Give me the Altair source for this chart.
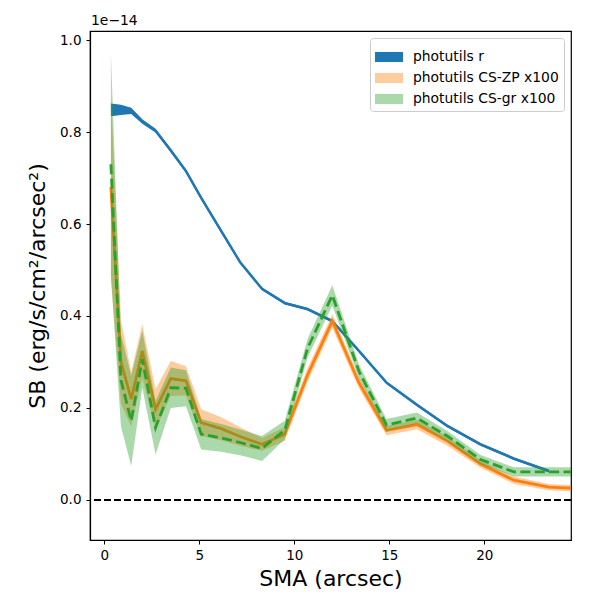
import altair as alt
import pandas as pd

# --- data (SB in units of 1e-14) ---
sma = [0.35, 0.88, 1.42, 2.0, 2.7, 3.5, 4.3, 5.1, 6.15, 7.15, 8.3, 9.5,
       10.7, 12.0, 13.4, 14.85, 16.45, 18.05, 19.8, 21.55, 23.4, 25.5]

sb_r = [0.848, 0.848, 0.846, 0.823, 0.803, 0.760, 0.715, 0.657, 0.585, 0.517,
        0.459, 0.428, 0.415, 0.389, 0.324, 0.255, 0.207, 0.161, 0.121, 0.090, 0.063]
sb_r_err = [0.014, 0.011, 0.007, 0.005, 0.004, 0.004, 0.004, 0.004, 0.004, 0.003,
            0.003, 0.003, 0.003, 0.003, 0.003, 0.003, 0.003, 0.003, 0.003, 0.003, 0.003]

sb_zp = [0.68, 0.30, 0.219, 0.324, 0.197, 0.264, 0.259, 0.168, 0.155, 0.138, 0.121,
         0.143, 0.272, 0.389, 0.255, 0.151, 0.164, 0.128, 0.078, 0.043, 0.028, 0.024]
sb_zp_err = [0.20, 0.09, 0.06, 0.058, 0.044, 0.038, 0.032, 0.029, 0.025, 0.02, 0.014,
             0.015, 0.015, 0.015, 0.012, 0.010, 0.010, 0.010, 0.008, 0.008, 0.007, 0.007]

sb_gr = [0.73, 0.26, 0.172, 0.306, 0.157, 0.244, 0.243, 0.143, 0.135, 0.125, 0.112,
         0.152, 0.330, 0.445, 0.280, 0.163, 0.178, 0.139, 0.088, 0.061, 0.061, 0.061]
sb_gr_err = [0.24, 0.10, 0.098, 0.062, 0.058, 0.044, 0.039, 0.033, 0.030, 0.028, 0.027,
             0.020, 0.020, 0.022, 0.015, 0.013, 0.012, 0.011, 0.010, 0.010, 0.010, 0.010]

series_names = ["photutils r", "photutils CS-ZP x100", "photutils CS-gr x100"]
legend_colors = ["#1f77b4", "#ffcc9f", "#abd9ab"]

x_ticks = [0, 5, 10, 15, 20]
y_ticks = [0.0, 0.2, 0.4, 0.6, 0.8, 1.0]
offset_label = "1e\u221214"


def frame(xs, ys, errs):
    return pd.DataFrame({
        "sma": xs[:len(ys)],
        "sb": ys,
        "lo": [a - b for a, b in zip(ys, errs)],
        "hi": [a + b for a, b in zip(ys, errs)],
    })


df_r = frame(sma, sb_r, sb_r_err)
df_zp = frame(sma, sb_zp, sb_zp_err)
df_gr = frame(sma, sb_gr, sb_gr_err)

FONT = "DejaVu Sans"

x_scale = alt.Scale(domain=[-0.75, 24.56], nice=False, zero=False)
y_scale = alt.Scale(domain=[-0.087, 1.0196], nice=False, zero=False)

x_enc = alt.X("sma:Q", scale=x_scale,
              axis=alt.Axis(title="SMA (arcsec)", values=x_ticks, format="d"))
y_axis = alt.Axis(title="SB (erg/s/cm\u00b2/arcsec\u00b2)", values=y_ticks, format=".1f")


def band(df, color, opacity):
    return alt.Chart(df).mark_area(color=color, opacity=opacity, clip=True,
                                   interpolate="linear").encode(
        x=x_enc,
        y=alt.Y("lo:Q", scale=y_scale, axis=y_axis),
        y2="hi:Q",
    )


def line(df, color, width, dash=None):
    kw = dict(color=color, strokeWidth=width, clip=True)
    if dash is not None:
        kw["strokeDash"] = dash
    return alt.Chart(df).mark_line(**kw).encode(
        x=x_enc,
        y=alt.Y("sb:Q", scale=y_scale, axis=y_axis),
    )


zero = alt.Chart(pd.DataFrame({"z": [0.0]})).mark_rule(
    color="black", strokeWidth=1.8, strokeDash=[7, 3]
).encode(y=alt.Y("z:Q", scale=y_scale, axis=y_axis))

legend_layer = alt.Chart(pd.DataFrame({"series": series_names})).mark_square(
    opacity=0, size=1
).encode(
    x=alt.value(-50),
    y=alt.value(-50),
    color=alt.Color(
        "series:N",
        scale=alt.Scale(domain=series_names, range=legend_colors),
        legend=alt.Legend(
            title=None, orient="top-right", offset=7,
            symbolType="M-1,-0.36H1V0.36H-1Z", symbolSize=784,
            symbolOpacity=1, symbolStrokeWidth=0,
            labelFont=FONT, labelFontSize=13.9, labelColor="black", labelOffset=10,
            labelFontWeight="normal",
            labelLimit=400, padding=5, rowPadding=-7,
            strokeColor="#cccccc", fillColor="white", cornerRadius=3,
        ),
    ),
)

offset_text = alt.Chart(pd.DataFrame({"t": [offset_label]})).mark_text(
    align="left", baseline="alphabetic", font=FONT, fontSize=13.9, color="black"
).encode(x=alt.value(1), y=alt.value(-6), text="t:N")

chart = alt.layer(
    zero,
    band(df_r, "#1f77b4", 1.0),
    line(df_r, "#1f77b4", 2.5),
    band(df_zp, "#ff7f0e", 0.4),
    line(df_zp, "#ff7f0e", 2.8),
    band(df_gr, "#2ca02c", 0.4),
    line(df_gr, "#2ca02c", 2.8, dash=[10, 4.4]),
    legend_layer,
    offset_text,
).properties(
    width=481, height=509,
    autosize=alt.AutoSizeParams(type="none"),
    padding={"left": 82, "top": 23, "right": 21, "bottom": 52},
).configure_view(
    stroke="black", strokeWidth=1.2
).configure_axis(
    grid=False, domainColor="black", domainWidth=1.2, tickColor="black",
    tickSize=4, tickWidth=1, labelFont=FONT, labelFontSize=13.5, labelColor="black",
    labelPadding=4, titleFont=FONT, titleFontSize=22, titleFontWeight="normal",
    titleColor="black",
).configure_axisY(
    titlePadding=10, labelPadding=5
).configure_axisX(
    titlePadding=7
)

chart.save("out.html", embed_options={"renderer": "svg", "actions": False})
